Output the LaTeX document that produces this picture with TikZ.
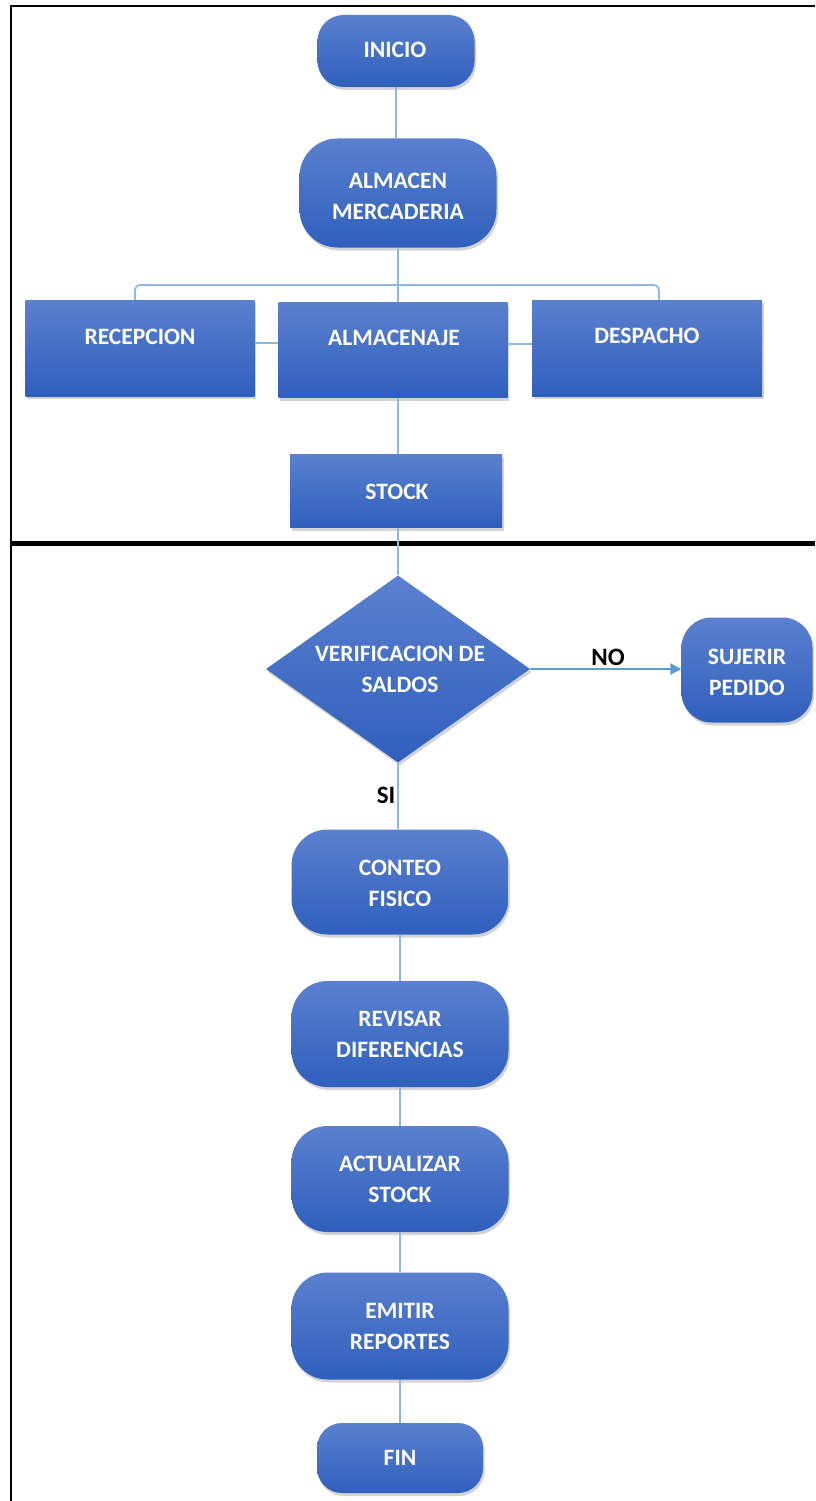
\documentclass[tikz,border=0pt]{standalone}
\usepackage{fontspec}
\setmainfont{Carlito}
\usetikzlibrary{shapes.geometric,shadows,arrows.meta,calc}
\definecolor{boxtop}{HTML}{5B80CF}
\definecolor{boxbot}{HTML}{2F5FBD}
\definecolor{wire}{HTML}{8DB9E0}
\definecolor{arrowblue}{HTML}{5B9BD5}
\tikzset{
  shade/.style={top color=boxtop, bottom color=boxbot, draw=none,
    drop shadow={shadow xshift=1.5pt, shadow yshift=-3pt, opacity=0.35}},
  procbox/.style={shade, rectangle, inner sep=0pt},
  termbox/.style={shade, rectangle, inner sep=0pt, rounded corners=#1},
  termbox/.default=34pt,
  decision/.style={shade, diamond, inner sep=0pt},
  boxtext/.style={text=white, font=\bfseries\fontsize{23.5}{31}\selectfont, align=center, inner sep=0pt},
  branchtext/.style={text=black, font=\bfseries\fontsize{25}{28}\selectfont, inner sep=0pt},
  wireline/.style={draw=wire, line width=1.7pt},
  frameline/.style={draw=black, line width=2pt}
}
\begin{document}
\begin{tikzpicture}[x=1pt, y=-1pt]
\useasboundingbox (0,0) rectangle (815,1501);

% page frame and section divider
\draw[frameline] (11,1501) -- (11,6) -- (815,6);
\draw[black, line width=5pt] (11,543) -- (815,543);

% ---------- upper section: warehouse structure ----------
\node[termbox=26pt, minimum width=157pt, minimum height=72pt] (inicio) at (396,51) {};
\node[boxtext] (inicioT) at (395,50) {INICIO};

\node[termbox=38pt, minimum width=197pt, minimum height=109pt] (almacen) at (398,193) {};
\node[boxtext] (almacenT) at (398,196) {ALMACEN\\MERCADERIA};

\node[procbox, minimum width=229pt, minimum height=96pt] (recep) at (140,348) {};
\node[boxtext] (recepT) at (140,337) {RECEPCION};

\node[procbox, minimum width=229pt, minimum height=95pt] (almje) at (393,350) {};
\node[boxtext] (almjeT) at (394,338) {ALMACENAJE};

\node[procbox, minimum width=230pt, minimum height=96pt] (desp) at (647,348) {};
\node[boxtext] (despT) at (647,336) {DESPACHO};

\node[procbox, minimum width=212pt, minimum height=73pt] (stock) at (396,491) {};
\node[boxtext] (stockT) at (397,492) {STOCK};

% ---------- lower section: inventory check ----------
\node[decision, minimum width=264pt, minimum height=187pt] (verif) at (398,669) {};
\node[boxtext] (verifT) at (400,669) {VERIFICACION DE\\SALDOS};

\node[termbox=30pt, minimum width=131pt, minimum height=105pt] (sujerir) at (747,670) {};
\node[boxtext] (sujerirT) at (747,672) {SUJERIR\\PEDIDO};

\node[termbox=36pt, minimum width=217pt, minimum height=105pt] (conteo) at (400,882) {};
\node[boxtext] (conteoT) at (400,883) {CONTEO\\FISICO};

\node[termbox=36pt, minimum width=217pt, minimum height=106pt] (revisar) at (400,1034) {};
\node[boxtext] (revisarT) at (400,1034) {REVISAR\\DIFERENCIAS};

\node[termbox=36pt, minimum width=217pt, minimum height=106pt] (actual) at (400,1179) {};
\node[boxtext] (actualT) at (400,1179) {ACTUALIZAR\\STOCK};

\node[termbox=36pt, minimum width=217pt, minimum height=107pt] (emitir) at (400,1326) {};
\node[boxtext] (emitirT) at (400,1326) {EMITIR\\REPORTES};

\node[termbox=25pt, minimum width=166pt, minimum height=70pt] (fin) at (400,1458) {};
\node[boxtext] (finT) at (400,1458) {FIN};

% branch labels
\node[branchtext] (noT) at (608,657) {NO};
\node[branchtext] (siT) at (386,795) {SI};

% ---------- connectors ----------
\coordinate (bus) at (398,285);
\draw[wireline] (inicio.south) -- (inicio.south |- almacen.north);
\draw[wireline] (almacen.south) -- (almacen.south |- almje.north);
\draw[wireline, rounded corners=5pt] ([xshift=-5pt]recep.north) |- (bus) -| ([xshift=12pt]desp.north);
\draw[wireline] ([yshift=5pt]recep.east) -- ([yshift=5pt]recep.east -| almje.west);
\draw[wireline] ([yshift=6pt]almje.east) -- ([yshift=6pt]almje.east -| desp.west);
\draw[wireline] (almacen.south |- almje.south) -- (almacen.south |- stock.north);
\draw[wireline] (verif.north |- stock.south) -- (verif.north);
\draw[draw=arrowblue, line width=2.5pt, -{Triangle[length=11pt, width=11pt]}] (verif.east) -- (verif.east -| sujerir.west);
\draw[wireline] (verif.south) -- (verif.south |- conteo.north);
\draw[wireline] (conteo.south) -- (revisar.north);
\draw[wireline] (revisar.south) -- (actual.north);
\draw[wireline] (actual.south) -- (emitir.north);
\draw[wireline] (emitir.south) -- (fin.north);
\end{tikzpicture}
\end{document}
